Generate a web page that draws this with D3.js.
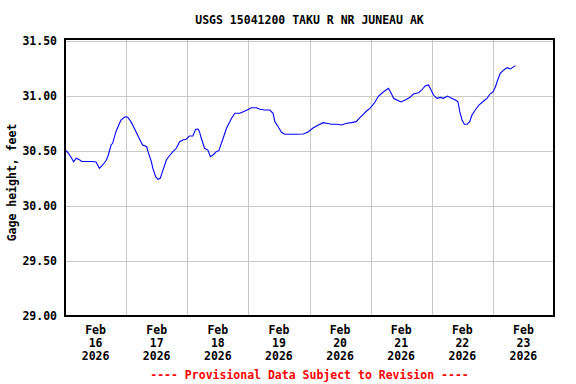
<!DOCTYPE html>
<html>
<head>
<meta charset="utf-8">
<script src="https://cdn.jsdelivr.net/npm/d3@7"></script>
<style>
  html, body { margin: 0; padding: 0; background: #fff; }
  text { font-family: 'DejaVu Sans Mono', 'Liberation Mono', monospace; font-weight: bold; }
</style>
</head>
<body>
<div id="chart"></div>
<script>
// gage height readings, hours after 2026-02-16 00:00
const hoursSinceStart = [
  0, 1.1, 2.3, 3.4, 4.4, 5.8, 6.6, 10.9, 12.2, 13.5, 14.8, 16.0, 16.8, 18.1, 18.7,
  20.0, 21.4, 22.0, 23.3, 23.9, 24.6, 25.9, 27.2, 28.5, 29.8, 30.5, 32.1, 32.6,
  33.9, 34.5, 35.6, 36.5, 37.4, 38.5, 39.8, 40.7, 42.4, 43.7, 45.0, 46.3, 47.6,
  48.9, 50.2, 51.3, 52.2, 52.8, 53.5, 54.8, 56.1, 57.1, 58.1, 59.4, 60.4, 62.1,
  63.4, 65.4, 66.7, 68.6, 70.0, 71.5, 73.2, 75.2, 76.5, 78.4, 80.4, 81.7, 82.4,
  83.7, 85.0, 86.3, 88.2, 90.6, 93.6, 95.6, 97.5, 99.5, 101.4, 102.7, 104.7,
  106.7, 108.6, 110.6, 112.5, 114.3, 115.8, 117.1, 118.4, 119.7, 120.8, 121.8,
  123.1, 125.1, 127.0, 128.0, 129.0, 130.3, 131.9, 133.6, 135.5, 136.8, 138.8,
  140.1, 141.4, 142.7, 143.4, 144.7, 146.0, 147.3, 148.6, 150.2, 151.4, 153.3,
  154.3, 155.0, 155.9, 156.8, 157.9, 158.9, 159.8, 161.1, 162.5, 164.4, 165.7,
  166.8, 168.1, 169.0, 169.9, 170.9, 172.3, 173.6, 174.9, 176.2, 176.8
];
const gageFt = [
  30.506, 30.484, 30.443, 30.400, 30.431, 30.415, 30.402, 30.402, 30.397, 30.340,
  30.370, 30.406, 30.445, 30.552, 30.567, 30.673, 30.749, 30.779, 30.804, 30.809,
  30.804, 30.764, 30.704, 30.643, 30.582, 30.552, 30.536, 30.491, 30.400, 30.340,
  30.264, 30.240, 30.249, 30.325, 30.415, 30.445, 30.491, 30.522, 30.582, 30.597,
  30.604, 30.634, 30.634, 30.695, 30.697, 30.673, 30.613, 30.522, 30.506, 30.445,
  30.461, 30.491, 30.500, 30.613, 30.704, 30.795, 30.840, 30.840, 30.855, 30.870,
  30.891, 30.891, 30.876, 30.870, 30.870, 30.840, 30.764, 30.718, 30.667, 30.649,
  30.649, 30.649, 30.652, 30.673, 30.709, 30.734, 30.755, 30.749, 30.740, 30.740,
  30.734, 30.749, 30.755, 30.764, 30.800, 30.831, 30.861, 30.885, 30.915, 30.945,
  30.997, 31.036, 31.067, 31.027, 30.976, 30.961, 30.943, 30.961, 30.985, 31.015,
  31.027, 31.052, 31.088, 31.097, 31.067, 31.006, 30.976, 30.985, 30.976, 30.997,
  30.982, 30.961, 30.945, 30.855, 30.779, 30.740, 30.740, 30.764, 30.825, 30.870,
  30.915, 30.952, 30.976, 31.013, 31.036, 31.082, 31.143, 31.204, 31.234, 31.255,
  31.243, 31.264, 31.273
];
const yTicks = [29.0, 29.5, 30.0, 30.5, 31.0, 31.5];
const titleText = 'USGS 15041200 TAKU R NR JUNEAU AK';
const yLabel = 'Gage height, feet';
const footerText = '---- Provisional Data Subject to Revision ----';

const startDate = new Date(2026, 1, 16);
const endDate = new Date(2026, 1, 24);

const data = hoursSinceStart.map((h, i) => ({
  date: d3.timeMinute.offset(startDate, Math.round(h * 60)),
  value: gageFt[i]
}));

const W = 576, H = 384;
const plot = { left: 65, right: 554, top: 39, bottom: 316 };

const svg = d3.select('#chart').append('svg')
  .attr('width', W)
  .attr('height', H);

const x = d3.scaleTime().domain([startDate, endDate]).range([plot.left, plot.right]);
const y = d3.scaleLinear().domain([29, 31.5]).range([315.7, 40.7]);

// grid
const days = d3.timeDay.range(d3.timeDay.offset(startDate, 1), endDate);
svg.append('g').selectAll('line')
  .data(days)
  .join('line')
  .attr('x1', d => Math.round(x(d)) + 0.5)
  .attr('x2', d => Math.round(x(d)) + 0.5)
  .attr('y1', plot.top)
  .attr('y2', plot.bottom)
  .attr('stroke', '#c8c8c8')
  .attr('stroke-width', 1);

svg.append('g').selectAll('line')
  .data(yTicks)
  .join('line')
  .attr('x1', plot.left)
  .attr('x2', plot.right)
  .attr('y1', d => Math.round(y(d)) + 0.5)
  .attr('y2', d => Math.round(y(d)) + 0.5)
  .attr('stroke', '#c8c8c8')
  .attr('stroke-width', 1);

// y tick labels
svg.append('g').selectAll('text')
  .data(yTicks)
  .join('text')
  .attr('x', 57)
  .attr('y', d => y(d))
  .attr('dy', '0.36em')
  .attr('text-anchor', 'end')
  .attr('font-size', 11.5)
  .attr('fill', '#000')
  .text(d => d3.format('.2f')(d));

// x labels at noon of each day
const fmtMon = d3.timeFormat('%b'), fmtDay = d3.timeFormat('%d'), fmtYear = d3.timeFormat('%Y');
const xl = svg.append('g').selectAll('text')
  .data(d3.timeDay.range(startDate, endDate))
  .join('text')
  .attr('text-anchor', 'middle')
  .attr('font-size', 11.5)
  .attr('fill', '#000');
xl.each(function (d) {
  const cx = x(d3.timeHour.offset(d, 12));
  const t = d3.select(this);
  [fmtMon(d), fmtDay(d), fmtYear(d)].forEach((s, i) => {
    t.append('tspan').attr('x', cx).attr('y', 334 + i * 13).text(s);
  });
});

// line
const line = d3.line()
  .x(d => x(d.date))
  .y(d => y(d.value));

svg.append('path')
  .datum(data)
  .attr('fill', 'none')
  .attr('stroke', '#0000ff')
  .attr('stroke-width', 1.1)
  .attr('d', line);

// frame
svg.append('rect')
  .attr('x', plot.left)
  .attr('y', plot.top)
  .attr('width', plot.right - plot.left)
  .attr('height', plot.bottom - plot.top)
  .attr('fill', 'none')
  .attr('stroke', '#000')
  .attr('stroke-width', 2);

// title
svg.append('text')
  .attr('x', (plot.left + plot.right) / 2)
  .attr('y', 24)
  .attr('text-anchor', 'middle')
  .attr('font-size', 11.5)
  .attr('fill', '#000')
  .text(titleText);

// y axis label
svg.append('text')
  .attr('transform', `translate(16, ${(plot.top + plot.bottom) / 2 + 5}) rotate(-90)`)
  .attr('text-anchor', 'middle')
  .attr('font-size', 11.5)
  .attr('fill', '#000')
  .text(yLabel);

// footer
svg.append('text')
  .attr('x', (plot.left + plot.right) / 2)
  .attr('y', 379)
  .attr('text-anchor', 'middle')
  .attr('font-size', 11.5)
  .attr('fill', '#ff0000')
  .text(footerText);
</script>
</body>
</html>
